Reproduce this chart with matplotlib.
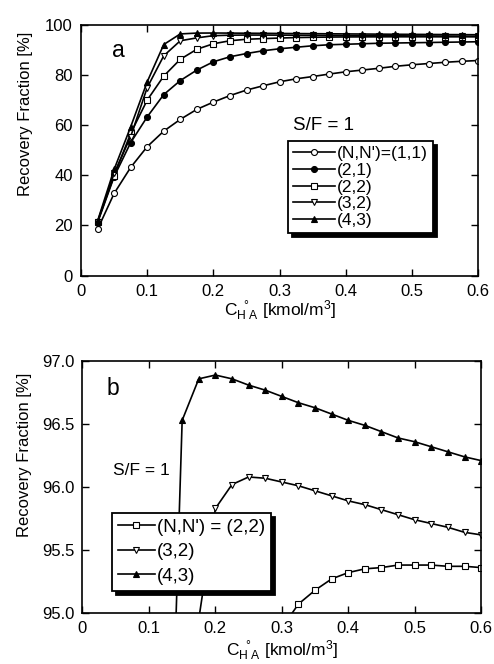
import matplotlib
matplotlib.use("Agg")
import matplotlib.pyplot as plt
from matplotlib.ticker import MultipleLocator, FormatStrFormatter

plt.rcParams['font.family'] = ['Liberation Sans', 'DejaVu Sans']
plt.rcParams['mathtext.fontset'] = 'custom'
plt.rcParams['mathtext.rm'] = 'Liberation Sans'
plt.rcParams['mathtext.it'] = 'Liberation Sans:italic'

# Data
x = [0.025, 0.05, 0.075, 0.1, 0.125, 0.15, 0.175, 0.2, 0.225, 0.25, 0.275, 0.3,
     0.325, 0.35, 0.375, 0.4, 0.425, 0.45, 0.475, 0.5, 0.525, 0.55, 0.575, 0.6]
r11 = [18.5, 32.8, 43.2, 51.5, 57.7, 62.4, 66.4, 69.3, 71.9, 74.1, 75.8, 77.4,
       78.6, 79.5, 80.5, 81.4, 82.1, 82.8, 83.6, 84.2, 84.7, 85.2, 85.6, 85.9]
r21 = [21.1, 39.5, 53.1, 63.4, 72.3, 77.9, 82.1, 85.4, 87.4, 88.7, 89.8, 90.6,
       91.2, 91.8, 92.2, 92.4, 92.6, 92.8, 92.9, 93.0, 93.1, 93.2, 93.3, 93.4]
r22 = [21.5, 39.9, 56.8, 70.1, 79.7, 86.4, 90.4, 92.6, 93.8, 94.4, 94.65, 94.88,
       95.07, 95.18, 95.27, 95.32, 95.35, 95.36, 95.38, 95.38, 95.38, 95.37, 95.37, 95.36]
r32 = [21.5, 40.8, 55.5, 75.1, 87.8, 93.8, 94.95, 95.83, 96.02, 96.08, 96.07, 96.04,
       96.01, 95.97, 95.93, 95.89, 95.86, 95.82, 95.78, 95.74, 95.71, 95.68, 95.64, 95.62]
r43 = [21.8, 42.4, 59.4, 77.4, 92.3, 96.53, 96.86, 96.89, 96.86, 96.81, 96.77, 96.72,
       96.67, 96.63, 96.58, 96.53, 96.49, 96.44, 96.39, 96.36, 96.32, 96.28, 96.24, 96.21]

labels_a = ["(N,N')=(1,1)", "(2,1)", "(2,2)", "(3,2)", "(4,3)"]
labels_b = ["(N,N') = (2,2)", "(3,2)", "(4,3)"]

xlabel = r"$\mathrm{C}_{\mathrm{H\ A}}^{\ \ \mathrm{°}}$ [kmol/m$^{3}$]"
ylabel = "Recovery Fraction [%]"

styles = {
    'r11': dict(marker='o', mfc='white'),
    'r21': dict(marker='o', mfc='black'),
    'r22': dict(marker='s', mfc='white'),
    'r32': dict(marker='v', mfc='white'),
    'r43': dict(marker='^', mfc='black'),
}
common = dict(color='black', mec='black', lw=1.2, ms=4.3, mew=0.8)

fig = plt.figure(figsize=(4.94, 6.64), dpi=100)

# Panel a
ax1 = fig.add_axes([0.164, 0.585, 0.804, 0.377])
series_a = [('r11', r11), ('r21', r21), ('r22', r22), ('r32', r32), ('r43', r43)]
for (key, vals), lab in zip(series_a, labels_a):
    ax1.plot(x, vals, label=lab, **styles[key], **common)
ax1.set_xlim(0, 0.6)
ax1.set_ylim(0, 100)
ax1.xaxis.set_major_locator(MultipleLocator(0.1))
ax1.yaxis.set_major_locator(MultipleLocator(20))
ax1.xaxis.set_major_formatter(FormatStrFormatter('%g'))
ax1.set_xlabel(xlabel, fontsize=12.5, labelpad=0)
ax1.set_ylabel(ylabel, fontsize=12)
ax1.yaxis.set_label_coords(-0.121, 0.645)
ax1.text(0.078, 0.872, 'a', transform=ax1.transAxes, fontsize=16.5)
ax1.text(0.534, 0.581, 'S/F = 1', transform=ax1.transAxes, fontsize=13.5)
leg1 = ax1.legend(loc='upper left', bbox_to_anchor=(0.521, 0.537), fontsize=12.5,
                  frameon=True, fancybox=False, shadow={'color': 'black', 'alpha': 1,
                                                         'ox': 3, 'oy': -3},
                  edgecolor='black', framealpha=1, handlelength=2.4,
                  labelspacing=0.08, borderpad=0.3, handletextpad=0.1,
                  borderaxespad=0)
leg1.get_frame().set_linewidth(1.3)

# Panel b
ax2 = fig.add_axes([0.167, 0.077, 0.807, 0.379])
series_b = [('r22', r22), ('r32', r32), ('r43', r43)]
for (key, vals), lab in zip(series_b, labels_b):
    ax2.plot(x, vals, label=lab, **styles[key], **common)
ax2.set_xlim(0, 0.6)
ax2.set_ylim(95.0, 97.0)
ax2.xaxis.set_major_locator(MultipleLocator(0.1))
ax2.yaxis.set_major_locator(MultipleLocator(0.5))
ax2.xaxis.set_major_formatter(FormatStrFormatter('%g'))
ax2.yaxis.set_major_formatter(FormatStrFormatter('%.1f'))
ax2.set_xlabel(xlabel, fontsize=12.5, labelpad=1.5)
ax2.set_ylabel(ylabel, fontsize=12)
ax2.yaxis.set_label_coords(-0.127, 0.627)
ax2.text(0.061, 0.865, 'b', transform=ax2.transAxes, fontsize=16.5)
ax2.text(0.076, 0.548, 'S/F = 1', transform=ax2.transAxes, fontsize=12.5)
leg2 = ax2.legend(loc='upper left', bbox_to_anchor=(0.074, 0.397), fontsize=13.5,
                  frameon=True, fancybox=False, shadow={'color': 'black', 'alpha': 1,
                                                         'ox': 3, 'oy': -3},
                  edgecolor='black', framealpha=1, handlelength=2.0,
                  labelspacing=0.4, borderpad=0.3, handletextpad=0.1,
                  borderaxespad=0)
leg2.get_frame().set_linewidth(1.3)

for ax in (ax1, ax2):
    ax.tick_params(direction='in', top=True, right=True, length=5, width=1,
                   labelsize=12, pad=6)
    for s in ax.spines.values():
        s.set_linewidth(1.2)

fig.savefig('out.png', dpi=100)
